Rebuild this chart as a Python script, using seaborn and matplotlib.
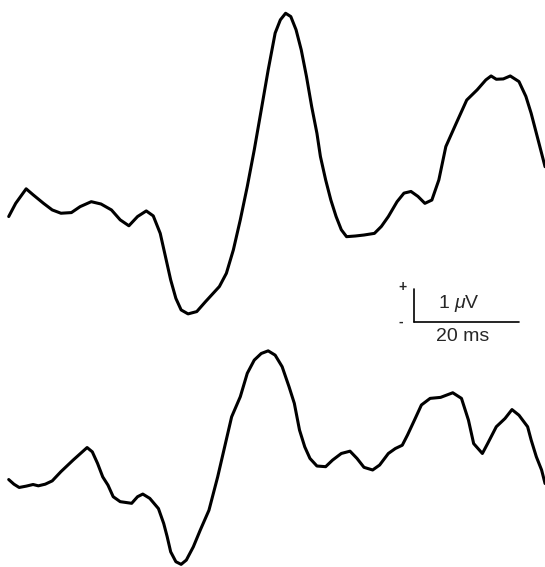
import numpy as np
import pandas as pd
import matplotlib
matplotlib.use("Agg")
import matplotlib.pyplot as plt
import seaborn as sns

# ---- data (time in ms, amplitude in microvolts) ----
top_time = [1.66, 2.99, 4.98, 6.30, 8.29, 9.95, 11.61, 13.60, 15.26, 17.38, 19.24, 21.23,
            22.89, 24.55, 26.20, 27.86, 29.19, 30.52, 31.51, 32.51, 33.50, 34.50, 35.82,
            37.48, 39.14, 41.79, 43.12, 44.45, 45.77, 47.10, 48.43, 49.76, 51.08, 52.41,
            53.40, 54.40, 55.39, 56.39, 57.38, 58.38, 59.37, 60.37, 61.03, 62.03, 63.02,
            64.02, 65.01, 66.01, 67.67, 69.33, 71.32, 72.64, 73.97, 75.63, 76.95, 78.28,
            79.61, 80.93, 82.26, 83.59, 84.92, 86.91, 88.90, 90.89, 92.54, 93.54, 94.53,
            95.86, 97.19, 98.85, 100.17, 101.17, 102.50, 103.82]
top_amp = [-0.05, 0.35, 0.79, 0.61, 0.35, 0.15, 0.05, 0.07, 0.25, 0.40, 0.33, 0.15,
           -0.15, -0.33, -0.05, 0.12, -0.03, -0.56, -1.26, -1.97, -2.53, -2.88, -3.00,
           -2.93, -2.63, -2.17, -1.77, -1.06, -0.15, 0.86, 1.97, 3.18, 4.39, 5.51,
           5.91, 6.11, 6.01, 5.61, 5.00, 4.19, 3.28, 2.47, 1.77, 1.06, 0.45,
           -0.05, -0.45, -0.66, -0.64, -0.61, -0.56, -0.35, -0.05, 0.40, 0.66, 0.71,
           0.56, 0.35, 0.45, 1.06, 2.07, 2.78, 3.48, 3.79, 4.09, 4.21, 4.11,
           4.12, 4.21, 4.04, 3.59, 3.08, 2.27, 1.46]

bottom_time = [1.66, 2.65, 3.65, 4.98, 6.30, 7.30, 8.62, 9.95, 11.61, 13.93, 16.59, 17.58,
               18.58, 19.57, 20.57, 21.56, 22.89, 25.08, 26.20, 27.20, 28.53, 30.18, 31.18,
               31.84, 32.51, 33.50, 34.50, 35.49, 36.82, 38.15, 39.80, 41.46, 42.79, 44.12,
               45.77, 47.10, 48.43, 49.76, 51.08, 52.41, 53.74, 55.06, 56.06, 57.05, 58.05,
               59.04, 60.37, 62.03, 63.35, 65.01, 66.67, 68.00, 69.33, 70.98, 72.31, 73.97,
               75.30, 76.62, 77.62, 78.94, 80.27, 81.93, 83.92, 86.24, 87.90, 89.23, 90.22,
               91.88, 92.88, 94.53, 96.19, 97.52, 98.85, 100.50, 101.17, 102.16, 103.16, 103.82]
bottom_amp = [0.32, 0.18, 0.08, 0.12, 0.17, 0.13, 0.18, 0.28, 0.56, 0.91, 1.29, 1.16,
              0.81, 0.40, 0.15, -0.20, -0.35, -0.40, -0.20, -0.12, -0.25, -0.56, -1.01,
              -1.41, -1.87, -2.17, -2.25, -2.12, -1.72, -1.21, -0.61, 0.40, 1.31, 2.22,
              2.83, 3.54, 3.94, 4.14, 4.22, 4.09, 3.74, 3.13, 2.63, 1.82, 1.31,
              0.96, 0.73, 0.71, 0.91, 1.11, 1.18, 0.96, 0.69, 0.61, 0.76, 1.11,
              1.26, 1.36, 1.67, 2.12, 2.58, 2.78, 2.81, 2.95, 2.78, 2.12, 1.41,
              1.11, 1.41, 1.92, 2.17, 2.44, 2.27, 1.92, 1.52, 1.01, 0.61, 0.20]

trace_offsets = [10.67, 2.33]   # vertical stacking of the two traces (µV units)
scale_labels = ["1 $\\mu$V", "20 ms"]
scale_time_ms = 20
scale_amp_uv = 1

# ---- figure ----
sns.set_theme(style="white")
plt.rcParams['font.family'] = ['Liberation Sans', 'DejaVu Sans']
plt.rcParams['mathtext.fontset'] = 'custom'
plt.rcParams['mathtext.it'] = 'Liberation Sans:italic'
plt.rcParams['mathtext.rm'] = 'Liberation Sans'

fig = plt.figure(figsize=(5.45, 5.67), dpi=100)
ax = fig.add_axes([0, 0, 1, 1])

df_top = pd.DataFrame({"t": top_time, "v": np.array(top_amp) + trace_offsets[0]})
df_bot = pd.DataFrame({"t": bottom_time, "v": np.array(bottom_amp) + trace_offsets[1]})
for d in (df_top, df_bot):
    sns.lineplot(data=d, x="t", y="v", ax=ax, color="black", linewidth=2.2,
                 sort=False, estimator=None, solid_joinstyle="round",
                 solid_capstyle="round")

# scale bar
x0, y0 = 78.86, 7.42
ax.plot([x0, x0], [y0, y0 + scale_amp_uv], color="black", lw=1.2)
ax.plot([x0, x0 + scale_time_ms], [y0, y0], color="black", lw=1.2)
ax.text(76.6, y0 + scale_amp_uv + 0.08, "+", ha="center", va="center",
        fontsize=10, fontweight="bold")
ax.text(76.4, y0, "-", ha="center", va="center", fontsize=10, fontweight="bold")
ax.text(87.5, 8.0, scale_labels[0], ha="center", va="center", fontsize=14)
ax.text(88.2, 6.97, scale_labels[1], ha="center", va="center", fontsize=14)

ax.set_xlim(0, 545 / 5.25)
ax.set_ylim(0, 567 / 33)
ax.set_axis_off()
fig.savefig("out.png", dpi=100)
